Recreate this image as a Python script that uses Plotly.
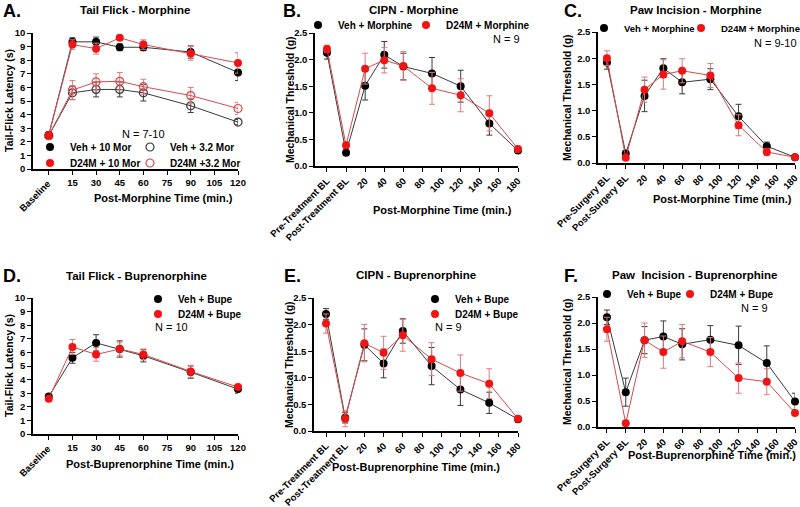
import plotly.graph_objects as go

W, H = 800, 507
FONT = "Liberation Sans, Arial, sans-serif"

# ---------------- data ----------------
tf_x = [0, 15, 30, 45, 60, 90, 120]
tf_ticks = [0, 15, 30, 45, 60, 75, 90, 105, 120]
tf_ticktext = ["", "15", "30", "45", "60", "75", "90", "105", "120"]

A_veh10 = [2.5, 9.35, 9.35, 8.95, 8.95, 8.6, 7.1]
A_veh10_err = [0.1, 0.3, 0.35, 0.25, 0.25, 0.45, 0.6]
A_d24m10 = [2.5, 9.15, 8.85, 9.65, 9.15, 8.5, 7.8]
A_d24m10_err = [0.1, 0.35, 0.4, 0.15, 0.35, 0.5, 0.75]
A_veh32 = [2.45, 5.6, 5.85, 5.85, 5.6, 4.65, 3.45]
A_veh32_err = [0.1, 0.5, 0.55, 0.55, 0.6, 0.5, 0.2]
A_d24m32 = [2.45, 5.8, 6.4, 6.45, 6.05, 5.4, 4.45]
A_d24m32_err = [0.1, 0.7, 0.6, 0.65, 0.55, 0.6, 0.45]

mt_x = [-20, 0, 20, 40, 60, 90, 120, 150, 180]
mt_ticks = [-20, 0, 20, 40, 60, 80, 100, 120, 140, 160, 180]
cipn_ticktext = ["Pre-Treatment BL", "Post-Treatment BL", "20", "40", "60", "80", "100", "120", "140", "160", "180"]
paw_ticktext = ["Pre-Surgery BL", "Post-Surgery BL", "20", "40", "60", "80", "100", "120", "140", "160", "180"]

B_veh = [2.13, 0.25, 1.51, 2.09, 1.87, 1.74, 1.5, 0.8, 0.29]
B_veh_err = [0.12, 0.05, 0.27, 0.25, 0.25, 0.3, 0.3, 0.22, 0.05]
B_d24m = [2.2, 0.39, 1.83, 1.99, 1.88, 1.46, 1.33, 0.99, 0.32]
B_d24m_err = [0.07, 0.06, 0.29, 0.24, 0.27, 0.3, 0.31, 0.33, 0.06]

C_veh = [1.92, 0.18, 1.28, 1.81, 1.54, 1.6, 0.89, 0.32, 0.11]
C_veh_err = [0.13, 0.05, 0.3, 0.18, 0.22, 0.2, 0.23, 0.08, 0.03]
C_d24m = [2.0, 0.1, 1.4, 1.69, 1.76, 1.67, 0.72, 0.21, 0.11]
C_d24m_err = [0.14, 0.04, 0.24, 0.28, 0.23, 0.23, 0.2, 0.07, 0.03]

D_veh = [2.75, 5.6, 6.7, 6.25, 5.75, 4.55, 3.3]
D_veh_err = [0.15, 0.4, 0.6, 0.6, 0.45, 0.45, 0.3]
D_d24m = [2.6, 6.4, 5.85, 6.25, 5.85, 4.6, 3.45]
D_d24m_err = [0.1, 0.55, 0.5, 0.5, 0.4, 0.45, 0.1]

E_veh = [2.2, 0.25, 1.62, 1.27, 1.88, 1.22, 0.78, 0.53, 0.22]
E_veh_err = [0.1, 0.1, 0.3, 0.27, 0.23, 0.35, 0.3, 0.2, 0.05]
E_d24m = [2.02, 0.23, 1.65, 1.47, 1.8, 1.35, 1.09, 0.89, 0.23]
E_d24m_err = [0.18, 0.15, 0.35, 0.31, 0.3, 0.31, 0.34, 0.28, 0.05]

F_veh = [2.11, 0.67, 1.67, 1.74, 1.59, 1.68, 1.57, 1.23, 0.49]
F_veh_err = [0.14, 0.27, 0.26, 0.3, 0.3, 0.27, 0.37, 0.33, 0.16]
F_d24m = [1.88, 0.07, 1.67, 1.44, 1.65, 1.44, 0.94, 0.87, 0.27]
F_d24m_err = [0.23, 0.03, 0.33, 0.31, 0.32, 0.28, 0.29, 0.25, 0.05]

# ---------------- styles ----------------
BLACK = "#000000"
BLACK_LINE = "#3a3a3a"
RED = "#f01414"
RED_LINE = "#d94a4a"
RED_ERR = "#e07a7a"


def fx(px):
    return px / W


def fy(py):
    return 1 - py / H


fig = go.Figure()

# panel geometry in pixels
panels = {
    1: dict(x=(33, 238), y=(33, 169), xr=[-10, 120], yr=[0, 10]),
    2: dict(x=(315, 518), y=(33, 166), xr=[-32.5, 180], yr=[0, 2.5]),
    3: dict(x=(598, 795), y=(32, 163), xr=[-29.5, 180], yr=[0, 2.5]),
    4: dict(x=(33, 238), y=(298, 434), xr=[-10, 120], yr=[0, 10]),
    5: dict(x=(314, 518), y=(298, 431), xr=[-32.5, 180], yr=[0, 2.5]),
    6: dict(x=(598, 795), y=(297, 427), xr=[-29.5, 180], yr=[0, 2.5]),
}

axis_common = dict(
    showgrid=False, zeroline=False, showline=True, linecolor="black", linewidth=1.5,
    ticks="outside", ticklen=4, tickwidth=1.3, tickcolor="black", automargin=False,
    tickfont=dict(family=FONT, size=9.5, color="black", weight="bold"),
)

layout = {}
for i, p in panels.items():
    xn = "xaxis" if i == 1 else f"xaxis{i}"
    yn = "yaxis" if i == 1 else f"yaxis{i}"
    ya = "y" if i == 1 else f"y{i}"
    xa = "x" if i == 1 else f"x{i}"
    xd = dict(axis_common, domain=[fx(p["x"][0]), fx(p["x"][1])], range=p["xr"], anchor=ya)
    yd = dict(axis_common, domain=[fy(p["y"][1]), fy(p["y"][0])], range=p["yr"], anchor=xa)
    if i in (1, 4):
        xd.update(tickmode="array", tickvals=tf_ticks, ticktext=tf_ticktext, tickangle=0)
        yd.update(tickmode="linear", tick0=0, dtick=1)
    else:
        xd.update(tickmode="array", tickvals=mt_ticks,
                  ticktext=cipn_ticktext if i in (2, 5) else paw_ticktext, tickangle=-45)
        yd.update(tickmode="linear", tick0=0, dtick=0.5, tickformat=".1f")
    layout[xn] = xd
    layout[yn] = yd


def add_series(panel, xs, ys, err, color, linecolor, errcolor, symbol="circle"):
    xa = "x" if panel == 1 else f"x{panel}"
    ya = "y" if panel == 1 else f"y{panel}"
    fig.add_trace(go.Scatter(
        x=xs, y=ys, xaxis=xa, yaxis=ya, mode="lines+markers", showlegend=False,
        cliponaxis=False, hoverinfo="skip",
        line=dict(color=linecolor, width=1),
        marker=dict(symbol=symbol, size=8, color=color,
                    line=dict(color=color, width=1.2 if "open" in symbol else 0)),
        error_y=dict(type="data", array=err, visible=True, color=errcolor, thickness=1, width=3),
    ))


def add_legend(name, color, legend, symbol="circle"):
    fig.add_trace(go.Scatter(
        x=[None], y=[None], mode="markers", name=name, legend=legend, showlegend=True,
        marker=dict(symbol=symbol, size=8, color=color,
                    line=dict(color=color, width=1.2 if "open" in symbol else 0)),
    ))


# Panel A
add_series(1, tf_x, A_veh32, A_veh32_err, BLACK_LINE, BLACK_LINE, BLACK_LINE, "circle-open")
add_series(1, tf_x, A_d24m32, A_d24m32_err, RED_LINE, RED_LINE, RED_ERR, "circle-open")
add_series(1, tf_x, A_veh10, A_veh10_err, BLACK, BLACK_LINE, BLACK_LINE)
add_series(1, tf_x, A_d24m10, A_d24m10_err, RED, RED_LINE, RED_ERR)
# Panel B
add_series(2, mt_x, B_veh, B_veh_err, BLACK, BLACK_LINE, BLACK_LINE)
add_series(2, mt_x, B_d24m, B_d24m_err, RED, RED_LINE, RED_ERR)
# Panel C
add_series(3, mt_x, C_veh, C_veh_err, BLACK, BLACK_LINE, BLACK_LINE)
add_series(3, mt_x, C_d24m, C_d24m_err, RED, RED_LINE, RED_ERR)
# Panel D
add_series(4, tf_x, D_veh, D_veh_err, BLACK, BLACK_LINE, BLACK_LINE)
add_series(4, tf_x, D_d24m, D_d24m_err, RED, RED_LINE, RED_ERR)
# Panel E
add_series(5, mt_x, E_veh, E_veh_err, BLACK, BLACK_LINE, BLACK_LINE)
add_series(5, mt_x, E_d24m, E_d24m_err, RED, RED_LINE, RED_ERR)
# Panel F
add_series(6, mt_x, F_veh, F_veh_err, BLACK, BLACK_LINE, BLACK_LINE)
add_series(6, mt_x, F_d24m, F_d24m_err, RED, RED_LINE, RED_ERR)

# legends: (name, color, symbol, marker px x, px y, font size)
legend_items = [
    ("Veh + 10 Mor", BLACK, "circle", 50, 147, 10),
    ("Veh + 3.2 Mor", BLACK_LINE, "circle-open", 150, 147, 10),
    ("D24M + 10 Mor", RED, "circle", 50, 163, 10),
    ("D24M +3.2 Mor", RED_LINE, "circle-open", 150, 163, 10),
    ("Veh + Morphine", BLACK, "circle", 318, 25, 10),
    ("D24M + Morphine", RED, "circle", 426, 25, 10),
    ("Veh + Morphine", BLACK, "circle", 604, 28, 9.5),
    ("D24M + Morphine", RED, "circle", 701, 28, 9.5),
    ("Veh + Bupe", BLACK, "circle", 158, 299, 10),
    ("D24M + Bupe", RED, "circle", 158, 314, 10),
    ("Veh + Bupe", BLACK, "circle", 435, 299, 10),
    ("D24M + Bupe", RED, "circle", 435, 314, 10),
    ("Veh + Bupe", BLACK, "circle", 607, 294, 10),
    ("D24M + Bupe", RED, "circle", 690, 294, 10),
]
LEG_OFF = 20  # px between legend left edge and marker centre
for k, (name, color, sym, mx, my, fs) in enumerate(legend_items):
    lname = "legend" if k == 0 else f"legend{k + 1}"
    add_legend(name, color, lname, sym)
    layout[lname] = dict(
        x=fx(mx - LEG_OFF), y=fy(my), xanchor="left", yanchor="middle",
        bgcolor="rgba(0,0,0,0)", borderwidth=0, tracegroupgap=0, itemwidth=30,
        itemclick=False, itemdoubleclick=False,
        font=dict(family=FONT, size=fs, color="black", weight="bold"),
    )

annotations = []


def ann(text, px, py, size=11, bold=True, xanchor="center", angle=0, yanchor="middle"):
    annotations.append(dict(
        text=text, x=fx(px), y=fy(py), xref="paper", yref="paper", showarrow=False,
        xanchor=xanchor, yanchor=yanchor, textangle=angle,
        font=dict(family=FONT, size=size, color="black", weight="bold" if bold else "normal"),
    ))


# panel letters
for t, x, y in [("A.", 1, 11), ("B.", 281, 11), ("C.", 562, 11),
                ("D.", 1, 276), ("E.", 282, 276), ("F.", 562, 276)]:
    ann(t, x, y, size=18, xanchor="left")
# titles
ann("Tail Flick - Morphine", 135, 10, size=11.5)
ann("CIPN - Morphine", 413, 10, size=11.5)
ann("Paw Incision - Morphine", 696, 10, size=11.5)
ann("Tail Flick - Buprenorphine", 136, 276, size=11.5)
ann("CIPN - Buprenorphine", 416, 275, size=11.5)
ann("Paw  Incision - Buprenorphine", 695, 275, size=11.5)
# x titles
ann("Post-Morphine Time (min.)", 163, 198, size=11)
ann("Post-Morphine Time (min.)", 442, 210, size=11)
ann("Post-Morphine Time (min.)", 722, 199, size=11)
ann("Post-Buprenorphine Time (min.)", 150, 464, size=11)
ann("Post-Buprenorphine Time (min.)", 416, 467, size=11)
ann("Post-Buprenorphine Time (min.)", 712, 455, size=11)
# y titles
ann("Tail-Flick Latency (s)", 9, 101, size=10.5, angle=-90)
ann("Mechanical Threshold (g)", 290, 100, size=10.5, angle=-90)
ann("Mechanical Threshold (g)", 567, 98, size=10.5, angle=-90)
ann("Tail-Flick Latency (s)", 9, 366, size=10.5, angle=-90)
ann("Mechanical Threshold (g)", 289, 365, size=10.5, angle=-90)
ann("Mechanical Threshold (g)", 567, 362, size=10.5, angle=-90)
# Baseline rotated labels
ann("Baseline", 34, 196, size=9.5, angle=-45)
ann("Baseline", 34, 461, size=9.5, angle=-45)
# N labels
ann("N = 7-10", 143, 134, size=11, bold=False)
ann("N = 9", 522, 39, size=11, bold=False, xanchor="right")
ann("N = 9-10", 799, 43, size=11, bold=False, xanchor="right")
ann("N = 10", 153, 327, size=11, bold=False, xanchor="left")
ann("N = 9", 433, 327, size=11, bold=False, xanchor="left")
ann("N = 9", 770, 308, size=11, bold=False, xanchor="right")

fig.update_layout(
    width=W, height=H, margin=dict(l=0, r=0, t=0, b=0, autoexpand=False),
    paper_bgcolor="white", plot_bgcolor="white", hovermode=False,
    annotations=annotations, **layout,
)

fig.write_html(
    "out.html",
    config={"displayModeBar": False, "staticPlot": False},
    post_script="document.body.style.margin='0';document.body.style.overflow='hidden';",
)
